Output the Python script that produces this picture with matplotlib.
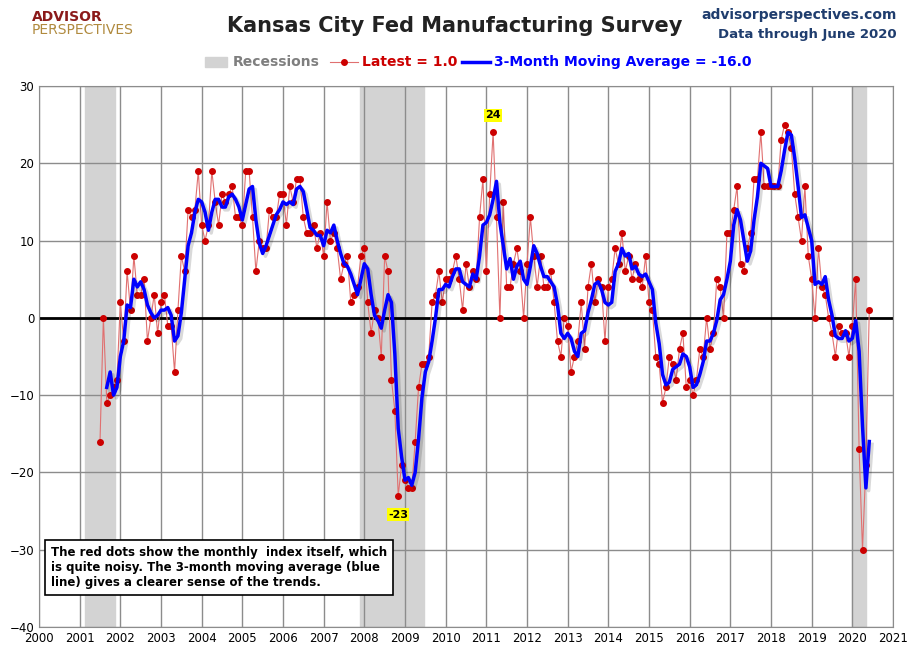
import numpy as np
import pandas as pd
import matplotlib
matplotlib.use("Agg")
import matplotlib.pyplot as plt
import matplotlib.patheffects as pe

START_YEAR = 2001
START_MONTH = 7

# monthly index, Jul 2001 .. Jun 2020
values = [
    -16, 0, -11, -10, -9, -8,
    2, -3, 6, 1, 8, 3, 3, 5, -3, 0, 3, -2,
    2, 3, -1, -1, -7, 1, 8, 6, 14, 13, 14, 19,
    12, 10, 12, 19, 15, 12, 16, 15, 16, 17, 13, 13,
    12, 19, 19, 13, 6, 10, 9, 9, 14, 13, 13, 16,
    16, 12, 17, 15, 18, 18, 13, 11, 11, 12, 9, 11,
    8, 15, 10, 11, 9, 5, 7, 8, 2, 3, 4, 8,
    9, 2, -2, 1, 0, -5, 8, 6, -8, -12, -23, -19,
    -21, -22, -22, -16, -9, -6, -6, -5, 2, 3, 6, 2,
    5, 5, 6, 8, 5, 1, 7, 4, 6, 5, 13, 18,
    6, 16, 24, 13, 0, 15, 4, 4, 7, 9, 6, 0,
    7, 13, 8, 4, 8, 4, 4, 6, 2, -3, -5, 0,
    -1, -7, -5, -3, 2, -4, 4, 7, 2, 5, 4, -3,
    4, 5, 9, 7, 11, 6, 8, 5, 7, 5, 4, 8,
    2, 1, -5, -6, -11, -9, -5, -6, -8, -4, -2, -9,
    -8, -10, -8, -4, -5, 0, -4, -2, 5, 4, 0, 11,
    11, 14, 17, 7, 6, 9, 11, 18, 18, 24, 17, 17,
    17, 17, 17, 23, 25, 24, 22, 16, 13, 10, 17, 8,
    5, 0, 9, 4, 3, 0, -2, -5, -1, -2, -2, -5,
    -1, 5, -17, -30, -19, 1,
]

recessions = [(2001.12, 2001.87), (2007.9, 2009.46), (2020.0, 2020.34)]

x = np.array([START_YEAR + (START_MONTH - 1 + i) / 12 for i in range(len(values))])
y = np.array(values, dtype=float)
ma = pd.Series(y).rolling(3).mean().to_numpy()

fig = plt.figure(figsize=(9.1, 6.61), dpi=100)
ax = fig.add_axes([39 / 910, 34 / 661, 854 / 910, 541 / 661])

for a, b in recessions:
    ax.axvspan(a, b, color="#d3d3d3", zorder=0)
ax.grid(True, color="#8c8c8c", linewidth=1)
ax.set_axisbelow(True)
ax.axhline(0, color="black", linewidth=2, zorder=2)

ax.plot(x, y, color="#e07070", linewidth=0.8, marker="o", markersize=4,
        markerfacecolor="#cc0000", markeredgecolor="#cc0000", zorder=3)
ax.plot(x, ma, color="#0000ff", linewidth=2.5, zorder=4,
        path_effects=[pe.SimpleLineShadow(offset=(2, -2), alpha=0.15), pe.Normal()])

ax.set_xlim(2000, 2021)
ax.set_ylim(-40, 30)
ax.set_xticks(range(2000, 2022))
ax.set_yticks(range(-40, 31, 10))
ax.tick_params(labelsize=8.5, length=0)
for s in ax.spines.values():
    s.set_color("#8c8c8c")

# the source labels the 2011 high and the 2008 low
imax = int(np.argmax(y[:150]))
imin = int(np.argmin(y[:200]))
ax.annotate(f"{values[imax]}", (x[imax], y[imax]), xytext=(0, 10), textcoords="offset points",
            ha="center", fontsize=8, fontweight="bold",
            bbox=dict(boxstyle="square,pad=0.1", fc="yellow", ec="none"))
ax.annotate(f"{values[imin]}", (x[imin], y[imin]), xytext=(0, -10), textcoords="offset points",
            ha="center", va="top", fontsize=8, fontweight="bold",
            bbox=dict(boxstyle="square,pad=0.1", fc="yellow", ec="none"))

ax.text(2000.3, -32.3,
        "The red dots show the monthly  index itself, which\n"
        "is quite noisy. The 3-month moving average (blue\n"
        "line) gives a clearer sense of the trends.",
        fontsize=8.5, fontweight="bold", va="center", zorder=6,
        bbox=dict(boxstyle="square,pad=0.5", fc="white", ec="black", lw=1.2))

fig.text(0.5, 0.96, "Kansas City Fed Manufacturing Survey", ha="center", va="center",
         fontsize=15, fontweight="bold", color="#222222")
fig.text(0.985, 0.978, "advisorperspectives.com", ha="right", va="center",
         fontsize=10, fontweight="bold", color="#1f3d6e")
fig.text(0.985, 0.948, "Data through June 2020", ha="right", va="center",
         fontsize=9.5, fontweight="bold", color="#1f3d6e")
fig.text(0.035, 0.975, "ADVISOR", ha="left", va="center", fontsize=10,
         fontweight="bold", color="#8b1a1a")
fig.text(0.035, 0.955, "PERSPECTIVES", ha="left", va="center", fontsize=10,
         color="#b08a3e")

# legend row
fig.patches.append(plt.Rectangle((205 / 910, 0.898), 22 / 910, 0.016,
                                 transform=fig.transFigure, color="#d3d3d3"))
fig.text(233 / 910, 0.906, "Recessions", fontsize=10, fontweight="bold",
         color="#7f7f7f", va="center")
fig.add_artist(plt.Line2D([330 / 910, 358 / 910], [0.906, 0.906], color="#e07070",
                          lw=0.8, transform=fig.transFigure))
fig.add_artist(plt.Line2D([344 / 910], [0.906], color="#cc0000", marker="o",
                          markersize=4, transform=fig.transFigure))
fig.text(362 / 910, 0.906, f"Latest = {values[-1]:.1f}", fontsize=10,
         fontweight="bold", color="#cc0000", va="center")
fig.add_artist(plt.Line2D([462 / 910, 490 / 910], [0.906, 0.906], color="#0000ff",
                          lw=2.5, transform=fig.transFigure))
fig.text(494 / 910, 0.906, f"3-Month Moving Average = {ma[-1]:.1f}", fontsize=10,
         fontweight="bold", color="#0000ff", va="center")

fig.savefig("out.png", dpi=100)
